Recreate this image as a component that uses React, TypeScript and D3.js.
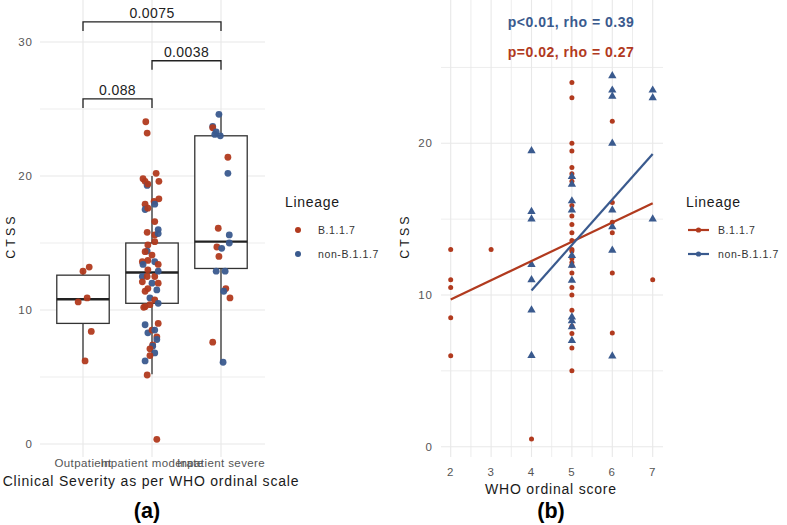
import React from 'react';
import * as d3 from 'd3';

// --- panel (a): CTSS by clinical severity ---
const severityGroups = ['Outpatient', 'Inpatient moderate', 'Inpatient severe'];
// box stats: lower whisker, q1, median, q3, upper whisker
const whiskerLow = [6.2, 5.2, 6.0];
const q1 = [9.0, 10.5, 13.1];
const median = [10.8, 12.8, 15.1];
const q3 = [12.6, 15.0, 23.0];
const whiskerHigh = [13.0, 20.0, 24.7];

// jittered points: [CTSS, lineage (B = B.1.1.7, N = non-B.1.1.7), jitter in category units]
const outpatientPts: [number, string, number][] = [
  [12.9, 'B', 0], [13.2, 'B', 0.09], [10.6, 'B', -0.07], [10.9, 'B', 0.06], [8.4, 'B', 0.12], [6.2, 'B', 0.03],
];
const moderatePts: [number, string, number][] = [
  [24.05, 'B', -0.09], [23.2, 'B', -0.07], [20.2, 'B', 0.06], [19.8, 'B', -0.13], [19.6, 'B', -0.1],
  [19.3, 'N', -0.07], [19.4, 'B', -0.06], [19.6, 'B', 0.1], [18.3, 'B', 0.1], [18.1, 'B', 0.03],
  [17.9, 'B', -0.1], [17.5, 'N', -0.1], [17.6, 'B', -0.06], [17.9, 'N', 0.04], [16.6, 'B', 0.04],
  [15.8, 'B', -0.07], [16.0, 'N', 0.09], [15.6, 'B', 0.04], [15.7, 'N', 0.09], [15.1, 'B', 0.04],
  [14.85, 'B', -0.06], [14.4, 'N', -0.07], [14.35, 'B', -0.1], [14.1, 'B', 0], [13.6, 'N', 0.04],
  [13.7, 'B', -0.06], [13.6, 'B', -0.14], [13.4, 'N', -0.13], [13.4, 'B', 0.09], [13.0, 'B', -0.06],
  [12.5, 'N', -0.14], [12.5, 'B', -0.07], [12.5, 'B', 0.04], [12.9, 'N', 0.09], [12.1, 'B', -0.14],
  [12.0, 'N', 0], [12.0, 'B', 0.09], [11.6, 'B', -0.06], [11.5, 'N', 0.07], [11.4, 'B', -0.1],
  [10.9, 'N', -0.03], [10.75, 'B', 0.04], [10.25, 'B', -0.1], [10.4, 'B', -0.03], [10.5, 'N', 0.09],
  [10.2, 'B', -0.12], [8.9, 'N', -0.1], [9.0, 'B', 0.09], [8.3, 'N', -0.06], [8.5, 'B', 0],
  [8.5, 'N', 0.04], [8.0, 'B', 0.07], [7.8, 'N', 0.07], [7.4, 'B', 0.01], [7.3, 'N', 0.01],
  [7.1, 'B', -0.03], [6.8, 'N', 0.04], [6.6, 'B', -0.03], [6.2, 'N', -0.1], [5.15, 'B', -0.07],
  [0.35, 'B', 0.07],
];
const severePts: [number, string, number][] = [
  [24.6, 'N', -0.03], [23.7, 'N', -0.12], [23.6, 'B', -0.12], [23.3, 'N', -0.07], [23.0, 'N', -0.01],
  [23.1, 'N', -0.09], [21.4, 'B', 0.1], [20.2, 'N', 0.1], [16.1, 'B', -0.04], [15.6, 'N', 0.12],
  [14.7, 'B', -0.06], [14.6, 'N', 0.01], [15.0, 'N', 0.12], [14.0, 'B', -0.03], [12.9, 'N', -0.07],
  [12.9, 'N', 0.06], [11.6, 'B', 0.07], [11.4, 'N', 0.04], [10.9, 'B', 0.13], [7.6, 'B', -0.12],
  [6.1, 'N', 0.03],
];
const groupPoints = [outpatientPts, moderatePts, severePts];
// pairwise comparisons: [from group, to group, p label]
const comparisons: [number, number, string][] = [[0, 2, '0.0075'], [1, 2, '0.0038'], [0, 1, '0.088']];
const bracketLevels = [31.5, 28.6, 25.75];

// --- panel (b): CTSS vs WHO ordinal score ---
const whoB117 = [2, 2, 2, 2, 2, 3, 4,
  5, 5, 5, 5, 5, 5, 5, 5, 5, 5, 5, 5, 5, 5, 5, 5, 5, 5, 5, 5, 5, 5, 5, 5, 5,
  6, 6, 6, 6, 6, 6, 7];
const ctssB117 = [13, 11, 10.5, 8.5, 6, 13, 0.5,
  24.0, 23.0, 20.0, 19.5, 18.4, 18.0, 17.5, 15.9, 15.2, 14.65, 14.1, 13.6, 13.0, 12.9, 12.4, 12.15, 11.95, 11.45, 10.5, 10.0, 9.0, 7.94, 7.46, 6.5, 5.0,
  21.45, 16.1, 14.8, 14.1, 11.45, 7.5, 11.0];
const whoNon = [4, 4, 4, 4, 4, 4, 4,
  5, 5, 5, 5, 5, 5, 5, 5, 5, 5, 5,
  6, 6, 6, 6, 6, 6, 6, 6, 7, 7, 7];
const ctssNon = [19.5, 15.5, 15.0, 12.0, 11.0, 9.0, 6.0,
  17.8, 17.3, 16.2, 15.6, 12.6, 11.95, 10.97, 8.55, 8.3, 7.9, 7.0,
  24.45, 23.5, 23.1, 20.0, 15.6, 14.5, 12.95, 5.97, 23.5, 23.0, 15.0];
// fitted lines (endpoints)
const fitB117 = { x: [2, 7], y: [9.7, 16.05] };
const fitNon = { x: [4, 7], y: [10.3, 19.3] };
const statLabels = ['p<0.01, rho = 0.39', 'p=0.02, rho = 0.27'];

const lineageNames = ['B.1.1.7', 'non-B.1.1.7'];
const RED = '#B13A1E';
const BLUE = '#3A5A8E';
const GRID = '#e8e8e8';
const FONT = '"Liberation Sans", Arial, sans-serif';

const App = () => {
  // panel (a) scales
  const xA = d3.scalePoint<string>().domain(severityGroups).range([83, 221]);
  const yA = d3.scaleLinear().domain([0, 30]).range([444, 42]);
  const step = xA.step();
  const boxW = step * 0.76;
  const col = (l: string) => (l === 'B' ? RED : BLUE);

  // panel (b) scales
  const xB = d3.scaleLinear().domain([2, 7]).range([450.7, 652.7]);
  const yB = d3.scaleLinear().domain([0, 20]).range([446.7, 143.3]);
  const tri = d3.symbol().type(d3.symbolTriangle).size(30)() || '';

  const fitPath = (f: { x: number[]; y: number[] }) =>
    d3.line<number>().x((d) => xB(d)).y((d, i) => yB(f.y[i]))(f.x) || '';

  const tick = { fontSize: 11.5, letterSpacing: 1, fill: '#555' };
  const title = { fontSize: 14, letterSpacing: 0.8, fill: '#1a1a1a' };

  return (
    <svg width={787} height={525} style={{ position: 'absolute', left: 0, top: 0, background: '#fff' }} fontFamily={FONT}>
      {/* ===== panel (a) ===== */}
      <g>
        {d3.range(0, 31, 5).map((v) => (
          <line key={v} x1={40} x2={265} y1={yA(v)} y2={yA(v)} stroke={GRID} strokeWidth={v % 10 === 0 ? 1.1 : 0.8} />
        ))}
        {severityGroups.map((g) => (
          <line key={g} x1={xA(g)} x2={xA(g)} y1={0} y2={457} stroke={GRID} strokeWidth={1.1} />
        ))}
        {[0, 10, 20, 30].map((v) => (
          <text key={v} x={33} y={yA(v)} dy="0.35em" textAnchor="end" {...tick}>{v}</text>
        ))}
        {severityGroups.map((g, i) => {
          const cx = xA(g)!;
          return (
            <g key={g}>
              <line x1={cx} x2={cx} y1={yA(whiskerLow[i])} y2={yA(q1[i])} stroke="#333" strokeWidth={1.3} />
              <line x1={cx} x2={cx} y1={yA(q3[i])} y2={yA(whiskerHigh[i])} stroke="#333" strokeWidth={1.3} />
              <rect x={cx - boxW / 2} y={yA(q3[i])} width={boxW} height={yA(q1[i]) - yA(q3[i])} fill="#fff" stroke="#333" strokeWidth={1.3} />
              <line x1={cx - boxW / 2} x2={cx + boxW / 2} y1={yA(median[i])} y2={yA(median[i])} stroke="#222" strokeWidth={2.4} />
            </g>
          );
        })}
        {groupPoints.map((pts, gi) =>
          pts.map(([v, l, j], k) => (
            <circle key={gi + '-' + k} cx={xA(severityGroups[gi])! + j * step} cy={yA(v)} r={3.4} fill={col(l)} opacity={0.95} />
          ))
        )}
        {comparisons.map(([a, b, lab], i) => {
          const x1 = xA(severityGroups[a])!;
          const x2 = xA(severityGroups[b])!;
          const y = yA(bracketLevels[i]);
          return (
            <g key={lab}>
              <path d={`M${x1},${y + 9}V${y}H${x2}V${y + 9}`} fill="none" stroke="#222" strokeWidth={1.3} />
              <text x={(x1 + x2) / 2} y={y - 4} textAnchor="middle" fontSize={14} letterSpacing={0.4} fill="#222">{lab}</text>
            </g>
          );
        })}
        {severityGroups.map((g) => (
          <text key={g} x={xA(g)} y={467} textAnchor="middle" fontSize={11.5} letterSpacing={0.4} fill="#555">{g}</text>
        ))}
        <text x={151} y={486} textAnchor="middle" {...title}>Clinical Severity as per WHO ordinal scale</text>
        <text transform="translate(15,236) rotate(-90)" textAnchor="middle" fontSize={12.5} letterSpacing={3} fill="#1a1a1a">CTSS</text>
        <text x={147} y={518} textAnchor="middle" fontSize={21.5} fontWeight="bold" fill="#000">(a)</text>

        {/* legend (a) */}
        <text x={285} y={202} dy="0.35em" fontSize={14} letterSpacing={0.7} fill="#1a1a1a">Lineage</text>
        {lineageNames.map((n, i) => (
          <g key={n}>
            <circle cx={298} cy={230 + i * 24} r={3} fill={i === 0 ? RED : BLUE} />
            <text x={318} y={230 + i * 24} dy="0.35em" fontSize={10.5} letterSpacing={0.6} fill="#333">{n}</text>
          </g>
        ))}
      </g>

      {/* ===== panel (b) ===== */}
      <g>
        {d3.range(0, 26, 5).map((v) => (
          <line key={v} x1={441} x2={663} y1={yB(v)} y2={yB(v)} stroke={GRID} strokeWidth={v % 10 === 0 ? 1.1 : 0.8} />
        ))}
        {d3.range(2, 7.01, 0.5).map((v) => (
          <line key={v} x1={xB(v)} x2={xB(v)} y1={0} y2={457} stroke={GRID} strokeWidth={v % 1 === 0 ? 1.1 : 0.8} />
        ))}
        {[0, 10, 20].map((v) => (
          <text key={v} x={433} y={yB(v)} dy="0.35em" textAnchor="end" {...tick}>{v}</text>
        ))}
        {d3.range(2, 8).map((v) => (
          <text key={v} x={xB(v)} y={476} textAnchor="middle" {...tick}>{v}</text>
        ))}
        {whoB117.map((w, i) => (
          <circle key={'r' + i} cx={xB(w)} cy={yB(ctssB117[i])} r={2.5} fill={RED} />
        ))}
        {whoNon.map((w, i) => (
          <path key={'b' + i} d={tri} transform={`translate(${xB(w)},${yB(ctssNon[i])})`} fill={BLUE} />
        ))}
        <path d={fitPath(fitB117)} stroke={RED} strokeWidth={2.2} fill="none" />
        <path d={fitPath(fitNon)} stroke={BLUE} strokeWidth={2.2} fill="none" />
        <text x={571} y={22} dy="0.35em" textAnchor="middle" fontSize={14} letterSpacing={0.5} fontWeight="bold" fill={BLUE}>{statLabels[0]}</text>
        <text x={571} y={52} dy="0.35em" textAnchor="middle" fontSize={14} letterSpacing={0.5} fontWeight="bold" fill={RED}>{statLabels[1]}</text>
        <text x={551} y={494} textAnchor="middle" {...title}>WHO ordinal score</text>
        <text transform="translate(409,236) rotate(-90)" textAnchor="middle" fontSize={12.5} letterSpacing={3} fill="#1a1a1a">CTSS</text>
        <text x={551} y={518} textAnchor="middle" fontSize={21.5} fontWeight="bold" fill="#000">(b)</text>

        {/* legend (b) */}
        <text x={686} y={202} dy="0.35em" fontSize={14} letterSpacing={0.7} fill="#1a1a1a">Lineage</text>
        {lineageNames.map((n, i) => (
          <g key={n}>
            <line x1={688} x2={709} y1={230 + i * 24} y2={230 + i * 24} stroke={i === 0 ? RED : BLUE} strokeWidth={2.2} />
            <circle cx={698.5} cy={230 + i * 24} r={2.6} fill={i === 0 ? RED : BLUE} />
            <text x={718} y={230 + i * 24} dy="0.35em" fontSize={10.5} letterSpacing={0.6} fill="#333">{n}</text>
          </g>
        ))}
      </g>
    </svg>
  );
};

export default App;
